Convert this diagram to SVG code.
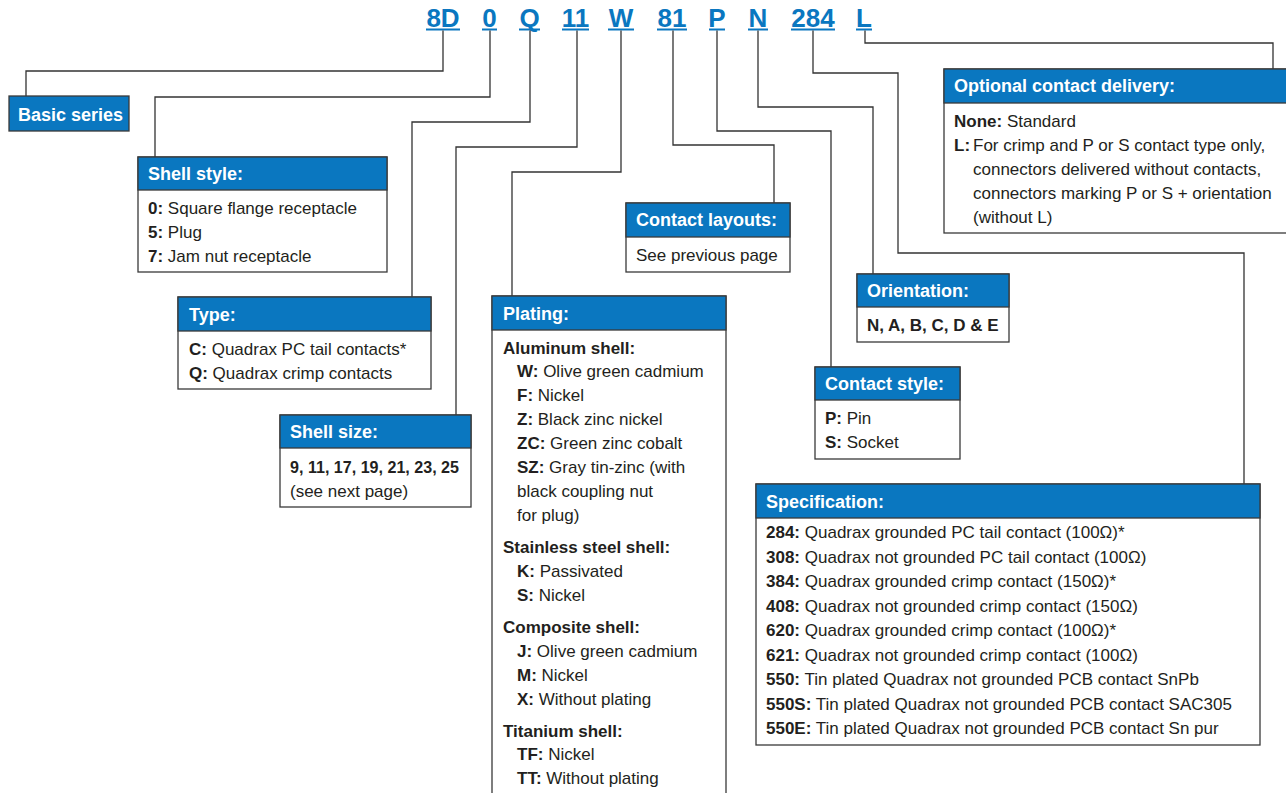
<svg xmlns="http://www.w3.org/2000/svg" width="1286" height="793" viewBox="0 0 1286 793">
<style>
.bx{fill:#fff;stroke:#3a3a3a;stroke-width:1.3}
.hd{fill:#0a77c0;stroke:#3a3a3a;stroke-width:1.3}
.ht{font-family:"Liberation Sans",Arial,sans-serif;font-weight:bold;font-size:18px;fill:#fff}
.bt{font-family:"Liberation Sans",Arial,sans-serif;font-size:17px;fill:#231f20}
.b{font-weight:bold}
.code{font-family:"Liberation Sans",Arial,sans-serif;font-weight:bold;font-size:26px;fill:#0a77c0;text-anchor:middle}
.ul{stroke:#0a77c0;stroke-width:2}
.cn{fill:none;stroke:#333;stroke-width:1.3}
</style>
<rect width="1286" height="793" fill="#fff"/>
<g id="code">
<text class="code" x="443" y="26.5">8D</text>
<text class="code" x="489.5" y="26.5">0</text>
<text class="code" x="529.5" y="26.5">Q</text>
<text class="code" x="575.5" y="26.5">11</text>
<text class="code" x="621" y="26.5">W</text>
<text class="code" x="672" y="26.5">81</text>
<text class="code" x="717" y="26.5">P</text>
<text class="code" x="758" y="26.5">N</text>
<text class="code" x="813" y="26.5">284</text>
<text class="code" x="864" y="26.5">L</text>
<line class="ul" x1="426" y1="29.5" x2="460" y2="29.5"/>
<line class="ul" x1="482" y1="29.5" x2="497" y2="29.5"/>
<line class="ul" x1="519" y1="29.5" x2="540" y2="29.5"/>
<line class="ul" x1="562" y1="29.5" x2="589" y2="29.5"/>
<line class="ul" x1="608" y1="29.5" x2="634" y2="29.5"/>
<line class="ul" x1="657" y1="29.5" x2="687" y2="29.5"/>
<line class="ul" x1="709" y1="29.5" x2="725" y2="29.5"/>
<line class="ul" x1="748" y1="29.5" x2="768" y2="29.5"/>
<line class="ul" x1="791" y1="29.5" x2="835" y2="29.5"/>
<line class="ul" x1="856" y1="29.5" x2="872" y2="29.5"/>
</g>
<g id="connectors">
<path class="cn" d="M443,30.5 V71 H26 V96"/>
<path class="cn" d="M490,30.5 V97 H155 V157"/>
<path class="cn" d="M530,30.5 V122 H412 V297"/>
<path class="cn" d="M577,30.5 V147 H456 V415"/>
<path class="cn" d="M621,30.5 V172 H512 V296"/>
<path class="cn" d="M673,30.5 V145 H774 V203"/>
<path class="cn" d="M717,30.5 V131 H831 V367"/>
<path class="cn" d="M758,30.5 V107 H873 V274"/>
<path class="cn" d="M813,30.5 V73 H898 V253 H1244 V484"/>
<path class="cn" d="M865,30.5 V43 H1273 V69"/>
</g>
<g id="basic-series">
<rect class="hd" x="9" y="96" width="120" height="35"/>
<text class="ht" x="18" y="121">Basic series</text>
</g>
<g id="shell-style">
<rect class="bx" x="138" y="157" width="249" height="115"/>
<rect class="hd" x="138" y="157" width="249" height="33"/>
<text class="ht" x="148" y="180">Shell style:</text>
<text class="bt" x="148" y="214"><tspan class="b">0:</tspan> Square flange receptacle</text>
<text class="bt" x="148" y="238"><tspan class="b">5:</tspan> Plug</text>
<text class="bt" x="148" y="262"><tspan class="b">7:</tspan> Jam nut receptacle</text>
</g>
<g id="type">
<rect class="bx" x="178" y="297" width="253" height="92"/>
<rect class="hd" x="178" y="297" width="253" height="34"/>
<text class="ht" x="189" y="321">Type:</text>
<text class="bt" x="189" y="355"><tspan class="b">C:</tspan> Quadrax PC tail contacts*</text>
<text class="bt" x="189" y="379"><tspan class="b">Q:</tspan> Quadrax crimp contacts</text>
</g>
<g id="shell-size">
<rect class="bx" x="280" y="415" width="191" height="92"/>
<rect class="hd" x="280" y="415" width="191" height="33"/>
<text class="ht" x="290" y="438">Shell size:</text>
<text class="bt b" x="290" y="473" textLength="169" lengthAdjust="spacingAndGlyphs">9, 11, 17, 19, 21, 23, 25</text>
<text class="bt" x="290" y="497">(see next page)</text>
</g>
<g id="contact-layouts">
<rect class="bx" x="626" y="203" width="164" height="69"/>
<rect class="hd" x="626" y="203" width="164" height="34"/>
<text class="ht" x="636" y="226">Contact layouts:</text>
<text class="bt" x="636" y="261">See previous page</text>
</g>
<g id="plating">
<rect class="bx" x="492" y="296" width="234" height="510"/>
<rect class="hd" x="492" y="296" width="234" height="34"/>
<text class="ht" x="503" y="320">Plating:</text>
<text class="bt b" x="503" y="354">Aluminum shell:</text>
<text class="bt" x="517" y="377"><tspan class="b">W:</tspan> Olive green cadmium</text>
<text class="bt" x="517" y="401"><tspan class="b">F:</tspan> Nickel</text>
<text class="bt" x="517" y="425"><tspan class="b">Z:</tspan> Black zinc nickel</text>
<text class="bt" x="517" y="449"><tspan class="b">ZC:</tspan> Green zinc cobalt</text>
<text class="bt" x="517" y="473"><tspan class="b">SZ:</tspan> Gray tin-zinc (with</text>
<text class="bt" x="517" y="497">black coupling nut</text>
<text class="bt" x="517" y="521">for plug)</text>
<text class="bt b" x="503" y="553">Stainless steel shell:</text>
<text class="bt" x="517" y="577"><tspan class="b">K:</tspan> Passivated</text>
<text class="bt" x="517" y="601"><tspan class="b">S:</tspan> Nickel</text>
<text class="bt b" x="503" y="633">Composite shell:</text>
<text class="bt" x="517" y="657"><tspan class="b">J:</tspan> Olive green cadmium</text>
<text class="bt" x="517" y="681"><tspan class="b">M:</tspan> Nickel</text>
<text class="bt" x="517" y="705"><tspan class="b">X:</tspan> Without plating</text>
<text class="bt b" x="503" y="737">Titanium shell:</text>
<text class="bt" x="517" y="760"><tspan class="b">TF:</tspan> Nickel</text>
<text class="bt" x="517" y="784"><tspan class="b">TT:</tspan> Without plating</text>
</g>
<g id="orientation">
<rect class="bx" x="857" y="274" width="152" height="68"/>
<rect class="hd" x="857" y="274" width="152" height="33"/>
<text class="ht" x="867" y="297">Orientation:</text>
<text class="bt b" x="867" y="331">N, A, B, C, D &amp; E</text>
</g>
<g id="contact-style">
<rect class="bx" x="815" y="367" width="145" height="92"/>
<rect class="hd" x="815" y="367" width="145" height="33"/>
<text class="ht" x="825" y="390">Contact style:</text>
<text class="bt" x="825" y="424"><tspan class="b">P:</tspan> Pin</text>
<text class="bt" x="825" y="448"><tspan class="b">S:</tspan> Socket</text>
</g>
<g id="specification">
<rect class="bx" x="756" y="484" width="504" height="261"/>
<rect class="hd" x="756" y="484" width="504" height="34"/>
<text class="ht" x="766" y="508">Specification:</text>
<text class="bt" x="766" y="538"><tspan class="b">284:</tspan> Quadrax grounded PC tail contact (100Ω)*</text>
<text class="bt" x="766" y="562.5"><tspan class="b">308:</tspan> Quadrax not grounded PC tail contact (100Ω)</text>
<text class="bt" x="766" y="587"><tspan class="b">384:</tspan> Quadrax grounded crimp contact (150Ω)*</text>
<text class="bt" x="766" y="611.5"><tspan class="b">408:</tspan> Quadrax not grounded crimp contact (150Ω)</text>
<text class="bt" x="766" y="636"><tspan class="b">620:</tspan> Quadrax grounded crimp contact (100Ω)*</text>
<text class="bt" x="766" y="660.5"><tspan class="b">621:</tspan> Quadrax not grounded crimp contact (100Ω)</text>
<text class="bt" x="766" y="685"><tspan class="b">550:</tspan> Tin plated Quadrax not grounded PCB contact SnPb</text>
<text class="bt" x="766" y="709.5"><tspan class="b">550S:</tspan> Tin plated Quadrax not grounded PCB contact SAC305</text>
<text class="bt" x="766" y="734"><tspan class="b">550E:</tspan> Tin plated Quadrax not grounded PCB contact Sn pur</text>
</g>
<g id="optional-contact-delivery">
<rect class="bx" x="944" y="69" width="350" height="164"/>
<rect class="hd" x="944" y="69" width="350" height="34"/>
<text class="ht" x="954" y="92">Optional contact delivery:</text>
<text class="bt" x="954" y="127"><tspan class="b">None:</tspan> Standard</text>
<text class="bt" x="954" y="151"><tspan class="b">L:</tspan></text>
<text class="bt" x="973" y="151">For crimp and P or S contact type only,</text>
<text class="bt" x="973" y="175">connectors delivered without contacts,</text>
<text class="bt" x="973" y="199">connectors marking P or S + orientation</text>
<text class="bt" x="973" y="223">(without L)</text>
</g>
</svg>
